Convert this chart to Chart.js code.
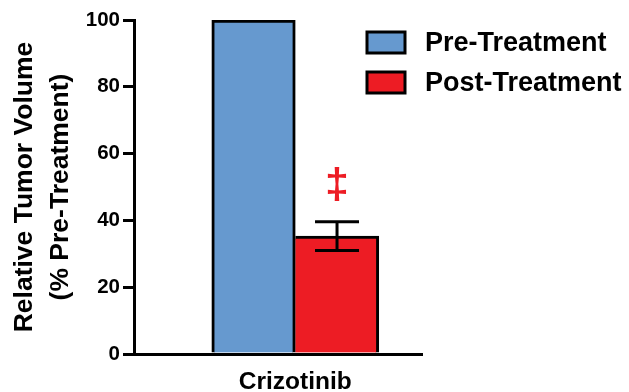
<!DOCTYPE html>
<html>
<head>
<meta charset="utf-8">
<script src="https://cdn.jsdelivr.net/npm/chart.js@4"></script>
<style>
  body { margin: 0; background: #fff; }
</style>
</head>
<body>
<canvas id="chart" width="629" height="392"></canvas>
<script>
// data
var categories = ['Crizotinib'];
var seriesNames = ['Pre-Treatment', 'Post-Treatment'];
var preValues = [100];
var postValues = [35.3];
var postErrors = [4.3];
var postMarks = ['\u2021'];
var yTicks = [0, 20, 40, 60, 80, 100];

var blue = '#6699cf';
var red = '#ed1c24';
var catPos = 56; // where the group sits on the 0..100 x axis

function points(vals) {
	return vals.map(function(v, i) { return { x: catPos, y: v }; });
}

// error bars and significance mark on the post-treatment bar
var errorBars = {
	id: 'errorBars',
	afterDatasetsDraw: function(chart) {
		var ctx = chart.ctx;
		var y = chart.scales.y;
		var meta = chart.getDatasetMeta(1);
		meta.data.forEach(function(bar, i) {
			var top = y.getPixelForValue(postValues[i] + postErrors[i]);
			var bot = y.getPixelForValue(postValues[i] - postErrors[i]);
			var half = 22;
			ctx.save();
			ctx.strokeStyle = '#000';
			ctx.lineWidth = 3;
			ctx.beginPath();
			ctx.moveTo(bar.x, top); ctx.lineTo(bar.x, bot);
			ctx.moveTo(bar.x - half, top); ctx.lineTo(bar.x + half, top);
			ctx.moveTo(bar.x - half, bot); ctx.lineTo(bar.x + half, bot);
			ctx.stroke();
			ctx.fillStyle = red;
			ctx.font = 'bold 43px "Liberation Sans"';
			ctx.textAlign = 'center';
			ctx.textBaseline = 'alphabetic';
			ctx.fillText(postMarks[i], bar.x, top - 24);
			ctx.restore();
		});
	}
};

// legend drawn over the top right
var boxLegend = {
	id: 'boxLegend',
	afterDraw: function(chart) {
		var ctx = chart.ctx;
		ctx.save();
		chart.data.datasets.forEach(function(ds, i) {
			var by = 32 + i * 40;
			ctx.fillStyle = ds.backgroundColor;
			ctx.fillRect(367, by, 38, 21);
			ctx.strokeStyle = '#000';
			ctx.lineWidth = 3;
			ctx.strokeRect(367, by, 38, 21);
			ctx.fillStyle = '#000';
			ctx.font = 'bold 27px "Liberation Sans"';
			ctx.textAlign = 'left';
			ctx.textBaseline = 'middle';
			ctx.fillText(ds.label, 425, by + 12);
		});
		ctx.restore();
	}
};

new Chart(document.getElementById('chart'), {
	type: 'bar',
	data: {
		datasets: [{
			label: seriesNames[0],
			data: points(preValues),
			backgroundColor: blue,
			borderColor: '#000',
			borderWidth: { top: 3, left: 3, right: 3, bottom: 0 },
			borderSkipped: false
		}, {
			label: seriesNames[1],
			data: points(postValues),
			backgroundColor: red,
			borderColor: '#000',
			borderWidth: { top: 3, left: 0, right: 3, bottom: 0 },
			borderSkipped: false
		}]
	},
	options: {
		responsive: false,
		animation: false,
		barThickness: 83.5,
		layout: { padding: { top: 20, right: 207, bottom: 0, left: 0 } },
		plugins: { legend: { display: false }, tooltip: { enabled: false } },
		scales: {
			x: {
				type: 'linear',
				min: 0,
				max: 100,
				offset: false,
				grid: { display: false, drawTicks: false },
				border: { display: true, color: '#000', width: 3 },
				afterBuildTicks: function(scale) {
					scale.ticks = categories.map(function() { return { value: catPos }; });
				},
				ticks: {
					color: '#000',
					padding: 14,
					font: { family: 'Liberation Sans', size: 24.5, weight: 'bold' },
					callback: function(v, i) { return categories[i]; }
				},
				afterFit: function(scale) { scale.height = 38; }
			},
			y: {
				min: yTicks[0],
				max: yTicks[yTicks.length - 1],
				afterBuildTicks: function(scale) {
					scale.ticks = yTicks.map(function(v) { return { value: v }; });
				},
				grid: { drawOnChartArea: false, drawTicks: true, tickLength: 11, lineWidth: 3, color: '#000' },
				border: { display: true, color: '#000', width: 3 },
				ticks: {
					color: '#000',
					padding: 3,
					font: { family: 'Liberation Sans', size: 20.5, weight: 'bold' }
				},
				title: {
					display: true,
					text: ['Relative Tumor Volume', '(% Pre-Treatment)'],
					color: '#000',
					padding: { top: 7, bottom: 0 },
					font: { family: 'Liberation Sans', size: 26.5, weight: 'bold', lineHeight: 36 / 26.5 }
				},
				afterFit: function(scale) { scale.width = 134; }
			}
		}
	},
	plugins: [errorBars, boxLegend]
});
</script>
</body>
</html>
